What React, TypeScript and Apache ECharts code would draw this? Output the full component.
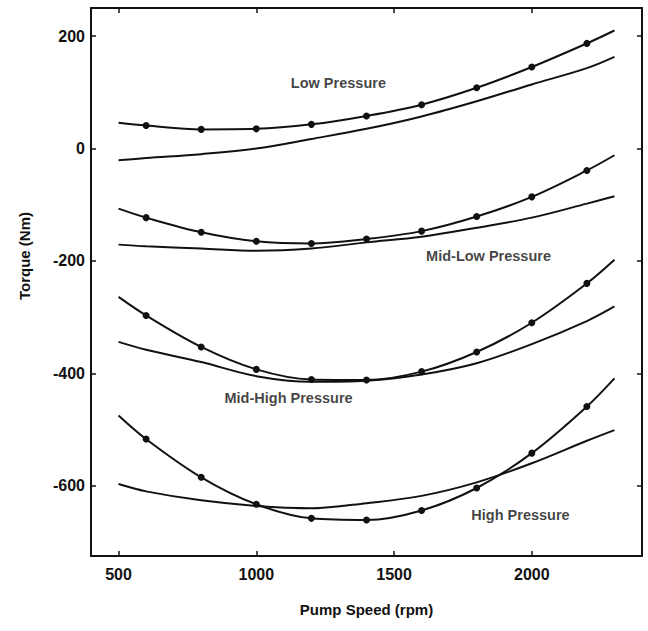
import React, { useEffect, useRef } from "react";
import * as echarts from "echarts";

// Pump speed (rpm) sample positions
const speedsLine = [500, 600, 800, 1000, 1200, 1400, 1600, 1800, 2000, 2200, 2300];
const measuredMask = [false, true, true, true, true, true, true, true, true, true, false];

// Torque (Nm) – curves through measured points (with dots)
const lowMeasured = [46, 41, 34, 35, 43, 58, 78, 108, 145, 187, 210];
const midLowMeasured = [-107, -123, -149, -165, -169, -161, -147, -121, -86, -39, -12];
const midHighMeasured = [-264, -297, -353, -393, -411, -412, -397, -362, -310, -240, -198];
const highMeasured = [-475, -517, -585, -633, -658, -661, -644, -604, -542, -459, -409];

// Torque (Nm) – model curves (no dots)
const lowModel = [-21, -17, -10, 0, 17, 35, 57, 84, 114, 143, 163];
const midLowModel = [-171, -174, -178, -182, -178, -167, -157, -141, -123, -98, -85];
const midHighModel = [-344, -358, -380, -405, -415, -413, -402, -382, -348, -307, -281];
const highModel = [-597, -610, -626, -636, -640, -631, -618, -594, -560, -520, -501];

// Axis ticks
const xTicks = [500, 1000, 1500, 2000];
const yTicks = [-600, -400, -200, 0, 200];

// Curve annotations (data coordinates)
const curveLabels = [
  { name: "Low Pressure", value: [1298, 117] },
  { name: "Mid-Low Pressure", value: [1843, -192] },
  { name: "Mid-High Pressure", value: [1117, -444] },
  { name: "High Pressure", value: [1959, -652] },
];

const FONT = "'Liberation Sans', Arial, sans-serif";
const INK = "#111";

function measuredSeries(values: number[]) {
  return {
    type: "line",
    smooth: 0.35,
    showSymbol: true,
    symbol: "circle",
    symbolSize: 7,
    lineStyle: { color: INK, width: 2 },
    itemStyle: { color: INK },
    data: speedsLine.map((s, i) =>
      measuredMask[i]
        ? { value: [s, values[i]] }
        : { value: [s, values[i]], symbol: "none" }
    ),
  };
}

function modelSeries(values: number[]) {
  return {
    type: "line",
    smooth: 0.35,
    showSymbol: false,
    symbol: "none",
    lineStyle: { color: INK, width: 2 },
    data: speedsLine.map((s, i) => [s, values[i]]),
  };
}

export default function App() {
  const ref = useRef<HTMLDivElement>(null);
  useEffect(() => {
    if (!ref.current) return;
    const chart = echarts.init(ref.current, undefined, { renderer: "svg" });
    const labelStyle = { fontFamily: FONT, fontWeight: "bold", fontSize: 16, color: INK };
    const axisLine = { show: true, onZero: false, lineStyle: { color: INK, width: 2 } };
    const tick = (vals: number[]) => ({
      show: true,
      inside: true,
      length: 5,
      customValues: vals,
      lineStyle: { color: INK, width: 1.5 },
    });
    chart.setOption({
      animation: false,
      backgroundColor: "#fff",
      grid: { left: 91, top: 8, right: 6, bottom: 75, containLabel: false },
      xAxis: [
        {
          type: "value",
          min: 400,
          max: 2400,
          position: "bottom",
          axisLine,
          axisTick: tick(xTicks),
          axisLabel: { ...labelStyle, margin: 10, customValues: xTicks, formatter: (v: number) => String(v) },
          splitLine: { show: false },
          name: "Pump Speed (rpm)",
          nameLocation: "middle",
          nameGap: 46,
          nameTextStyle: { ...labelStyle, fontSize: 15 },
        },
        {
          type: "value",
          min: 400,
          max: 2400,
          position: "top",
          axisLine,
          axisTick: tick(xTicks),
          axisLabel: { show: false },
          splitLine: { show: false },
        },
      ],
      yAxis: [
        {
          type: "value",
          min: -725,
          max: 250,
          position: "left",
          axisLine,
          axisTick: tick(yTicks),
          axisLabel: { ...labelStyle, margin: 6, customValues: yTicks, formatter: (v: number) => String(v) },
          splitLine: { show: false },
        },
        {
          type: "value",
          min: -725,
          max: 250,
          position: "right",
          axisLine,
          axisTick: tick(yTicks),
          axisLabel: { show: false },
          splitLine: { show: false },
        },
      ],
      graphic: [
        {
          type: "text",
          x: 24,
          y: 256,
          rotation: Math.PI / 2,
          style: {
            text: "Torque (Nm)",
            font: `bold 15px ${FONT}`,
            fill: INK,
            align: "center",
            verticalAlign: "middle",
          },
        },
      ],
      series: [
        measuredSeries(lowMeasured),
        modelSeries(lowModel),
        measuredSeries(midLowMeasured),
        modelSeries(midLowModel),
        measuredSeries(midHighMeasured),
        modelSeries(midHighModel),
        measuredSeries(highMeasured),
        modelSeries(highModel),
        {
          type: "scatter",
          symbol: "circle",
          symbolSize: 1,
          itemStyle: { color: "rgba(0,0,0,0)" },
          label: {
            show: true,
            position: "inside",
            formatter: (p: any) => p.name,
            fontFamily: FONT,
            fontWeight: "bold",
            fontSize: 14.5,
            color: INK,
          },
          data: curveLabels,
        },
      ],
    });
    return () => chart.dispose();
  }, []);
  return (
    <div
      ref={ref}
      style={{ position: "fixed", left: 0, top: 0, width: 648, height: 631, background: "#fff" }}
    />
  );
}
